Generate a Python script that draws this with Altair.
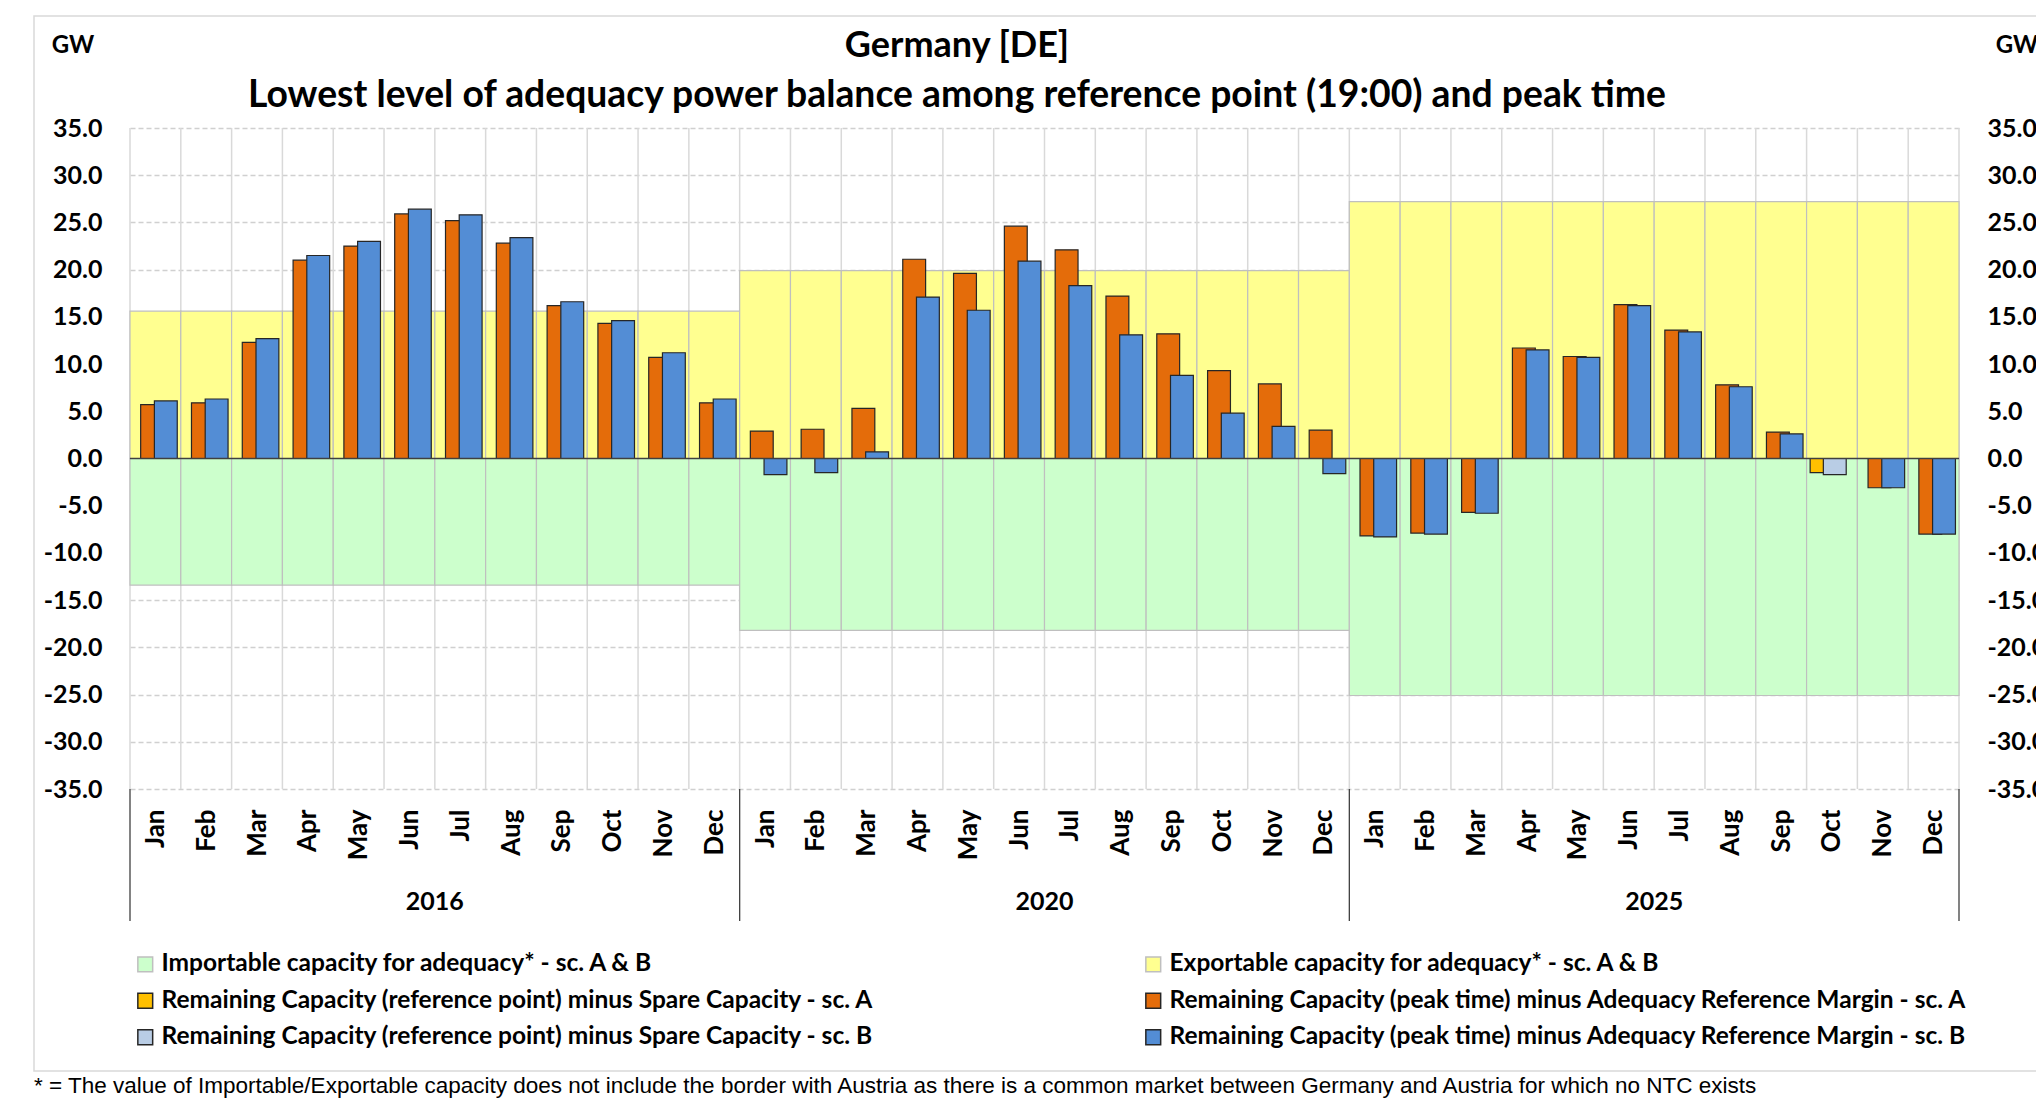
import altair as alt
import pandas as pd

# ---------------- data ----------------
months = ["Jan", "Feb", "Mar", "Apr", "May", "Jun", "Jul", "Aug", "Sep", "Oct", "Nov", "Dec"]
years = ["2016", "2020", "2025"]

exportable = [15.6, 19.9, 27.2]
importable = [-13.4, -18.2, -25.1]

peak_a = [
    5.7, 5.9, 12.3, 21.0, 22.5, 25.9, 25.2, 22.8, 16.2, 14.3, 10.7, 5.9,
    2.9, 3.1, 5.3, 21.1, 19.6, 24.6, 22.1, 17.2, 13.2, 9.3, 7.9, 3.0,
    -8.2, -7.9, -5.7, 11.7, 10.8, 16.3, 13.6, 7.8, 2.8, None, -3.1, -8.0,
]
peak_b = [
    6.1, 6.3, 12.7, 21.5, 23.0, 26.4, 25.8, 23.4, 16.6, 14.6, 11.2, 6.3,
    -1.7, -1.5, 0.7, 17.1, 15.7, 20.9, 18.3, 13.1, 8.8, 4.8, 3.4, -1.6,
    -8.3, -8.0, -5.8, 11.5, 10.7, 16.2, 13.4, 7.6, 2.6, None, -3.1, -8.0,
]
ref_a = [
    None, None, None, None, None, None, None, None, None, None, None, None,
    None, None, None, None, None, None, None, None, None, None, None, None,
    None, None, None, None, None, None, None, None, None, -1.5, None, None,
]
ref_b = [
    None, None, None, None, None, None, None, None, None, None, None, None,
    None, None, None, None, None, None, None, None, None, None, None, None,
    None, None, None, None, None, None, None, None, None, -1.7, None, None,
]

S_IMP = "Importable capacity for adequacy* - sc. A & B"
S_EXP = "Exportable capacity for adequacy* - sc. A & B"
S_REFA = "Remaining Capacity (reference point) minus Spare Capacity - sc. A"
S_PKA = "Remaining Capacity (peak time) minus Adequacy Reference Margin - sc. A"
S_REFB = "Remaining Capacity (reference point) minus Spare Capacity - sc. B"
S_PKB = "Remaining Capacity (peak time) minus Adequacy Reference Margin - sc. B"

# legend is filled column by column: left column then right column
series_order = [S_IMP, S_REFA, S_REFB, S_EXP, S_PKA, S_PKB]
fills = ["#CCFFCC", "#FFC000", "#B9CDE5", "#FFFF90", "#E46C0A", "#538DD5"]
strokes = ["#BFBFBF", "#262626", "#262626", "#BFBFBF", "#262626", "#262626"]

title1 = "Germany [DE]"
title2 = "Lowest level of adequacy power balance among reference point (19:00) and peak time"
footnote = ("* = The value of Importable/Exportable capacity does not include the border with "
            "Austria as there is a common market between Germany and Austria for which no NTC exists")

# ---------------- table ----------------
rows = []
for yi, yr in enumerate(years):
    for mi, m in enumerate(months):
        idx = yi * 12 + mi
        rows.append({"idx": idx, "key": "imp", "series": S_IMP, "value": importable[yi]})
        rows.append({"idx": idx, "key": "exp", "series": S_EXP, "value": exportable[yi]})
for key, name, vals in [("refA", S_REFA, ref_a), ("refB", S_REFB, ref_b),
                        ("pkA", S_PKA, peak_a), ("pkB", S_PKB, peak_b)]:
    for idx, v in enumerate(vals):
        if v is not None:
            rows.append({"idx": idx, "key": key, "series": name, "value": v})
df = pd.DataFrame(rows)

# ---------------- geometry / style ----------------
W, H = 1829, 661
FONT = "Lato"
n_cat = len(months) * len(years)
xscale = alt.Scale(domain=[0, n_cat], nice=False, zero=False)
yscale = alt.Scale(domain=[-35, 35], nice=False, zero=False)
ytick_vals = list(range(-35, 40, 5))
ylabel_expr = "replace(format(datum.value, '.1f'), '\u2212', '-')"
month_expr = "[" + ",".join("'%s'" % m for m in months) + "][floor(datum.value) % 12]"

x_axis = alt.Axis(
    values=[i + 0.5 for i in range(n_cat)], labelExpr=month_expr, labelAngle=270,
    grid=False, ticks=False, domain=False, labelFont=FONT, labelFontWeight="bold",
    labelFontSize=26, labelColor="black", labelPadding=20, title=None,
    labelOverlap=False, labelFlush=False, orient="bottom",
)

off_expr = ("(datum.key == 'imp' || datum.key == 'exp') ? 0 : "
            "(datum.key == 'refA' ? 0.07 : (datum.key == 'refB' ? 0.33 : "
            "(datum.key == 'pkA' ? 0.21 : 0.48)))")
wid_expr = "(datum.key == 'imp' || datum.key == 'exp') ? 1 : 0.45"

legend_kw = dict(
    title=None, orient="none", legendX=3, legendY=824, columns=2,
    symbolType="square", symbolSize=220, symbolStrokeWidth=1.5,
    labelFont=FONT, labelFontWeight="bold", labelFontSize=24.5, labelColor="black",
    labelLimit=0, columnPadding=266, rowPadding=11.5, padding=0, labelOffset=4,
)

bars = alt.Chart(df).transform_calculate(
    x0="datum.idx + (" + off_expr + ")",
    zero="0",
).transform_calculate(
    x1="datum.x0 + (" + wid_expr + ")",
).mark_rect(strokeWidth=1.2).encode(
    x=alt.X("x0:Q", scale=xscale, axis=x_axis),
    x2="x1:Q",
    y=alt.Y("value:Q", scale=yscale, axis=alt.Axis(
        values=ytick_vals, labelExpr=ylabel_expr, grid=True, gridDash=[5, 3],
        gridColor="#D0D0D0", gridWidth=1.5, ticks=False, domain=False,
        labelFont=FONT, labelFontWeight="bold", labelFontSize=25, labelColor="black",
        labelPadding=28, title=None, labelOverlap=False, orient="left")),
    y2="zero:Q",
    color=alt.Color("series:N", scale=alt.Scale(domain=series_order, range=fills),
                    legend=alt.Legend(**legend_kw)),
    stroke=alt.Stroke("series:N", scale=alt.Scale(domain=series_order, range=strokes),
                      legend=alt.Legend(**legend_kw)),
)

vgrid = alt.Chart(pd.DataFrame({"k": list(range(n_cat + 1))})).mark_rule(
    color="#D9D9D9", strokeWidth=1.5
).encode(
    x=alt.X("k:Q", scale=xscale, axis=x_axis),
    y=alt.value(0), y2=alt.value(H),
)

zero_line = alt.Chart(pd.DataFrame({"zero": [0]})).mark_rule(
    color="#404040", strokeWidth=1.5
).encode(
    y=alt.Y("zero:Q", scale=yscale, axis=alt.Axis(
        orient="right", values=ytick_vals, labelExpr=ylabel_expr, grid=False,
        ticks=False, domain=False, labelFont=FONT, labelFontWeight="bold",
        labelFontSize=25, labelColor="black", labelPadding=28, title=None,
        labelOverlap=False)),
    x=alt.value(0), x2=alt.value(W),
)

year_df = pd.DataFrame({"year": years, "yi": list(range(len(years)))})
year_sep = alt.Chart(pd.DataFrame({"b": list(range(len(years) + 1))})).transform_calculate(
    bx="datum.b * 12"
).mark_rule(color="#404040", strokeWidth=1.3).encode(
    x=alt.X("bx:Q", scale=xscale, axis=x_axis),
    y=alt.value(H), y2=alt.value(H + 132),
)
year_text = alt.Chart(year_df).transform_calculate(
    cx="datum.yi * 12 + 6"
).mark_text(font=FONT, fontWeight="bold", fontSize=25, color="black", baseline="middle").encode(
    x=alt.X("cx:Q", scale=xscale, axis=x_axis),
    y=alt.value(774),
    text="year:N",
)

def label(txt, x, y, size, align="center", font=FONT, weight="bold"):
    return alt.Chart(pd.DataFrame({"t": [txt]})).mark_text(
        font=font, fontWeight=weight, fontSize=size, color="black",
        align=align, baseline="middle"
    ).encode(x=alt.value(x), y=alt.value(y), text="t:N")

t1 = label(title1, 827, -82, 36)
t2 = label(title2, 827, -32, 37.3)
gw_l = label("GW", -57, -82, 24)
gw_r = label("GW", 1887, -82, 24)
foot = label(footnote, -96, 958, 22.5, align="left", font="Liberation Sans", weight="normal")

border = alt.Chart(pd.DataFrame({"b": [0]})).mark_rect(
    fill="transparent", stroke="#D9D9D9", strokeWidth=1.5
).encode(
    x=alt.value(-96), x2=alt.value(1990), y=alt.value(-112), y2=alt.value(943)
)

chart = alt.layer(
    border, vgrid, bars, zero_line, year_sep, year_text, t1, t2, gw_l, gw_r, foot
).properties(
    width=W, height=H,
    autosize=alt.AutoSizeParams(type="none"),
    padding={"left": 122, "top": 120, "right": 77, "bottom": 309},
    background="white",
).configure_view(stroke=None)

chart.save("out.html", embed_options={"renderer": "svg", "actions": False})
